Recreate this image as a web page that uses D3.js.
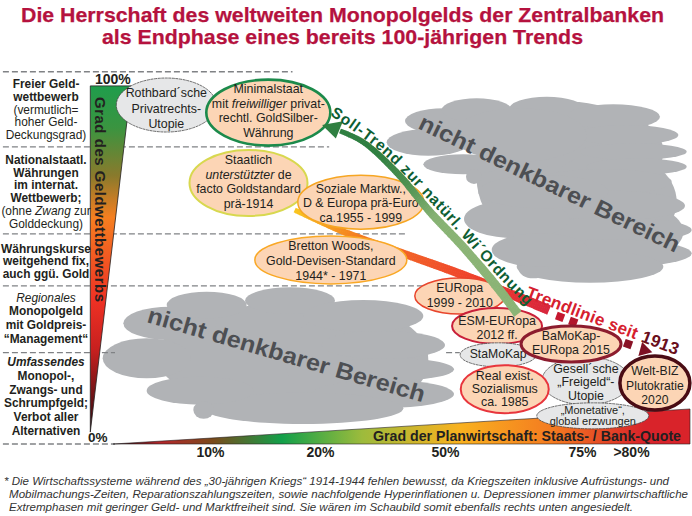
<!DOCTYPE html>
<html>
<head>
<meta charset="utf-8">
<script src="https://cdnjs.cloudflare.com/ajax/libs/d3/7.8.5/d3.min.js"></script>
<style>
html, body { margin: 0; padding: 0; background: #fff; }
svg { display: block; font-family: "Liberation Sans", Arial, sans-serif; }
</style>
</head>
<body>
<svg id="chart" width="692" height="516"></svg>
<script>
//texts
var titleLines = ["Die Herrschaft des weltweiten Monopolgelds der Zentralbanken", "als Endphase eines bereits 100-jährigen Trends"],
    xTickValues = [10, 20, 50, 75, 80],
    xTickLabels = ["10%", "20%", "50%", "75%", ">80%"],
    footnoteLines = [
        "* Die Wirtschaftssysteme während des „30-jährigen Kriegs“ 1914-1944 fehlen bewusst, da Kriegszeiten inklusive Aufrüstungs- und",
        "Mobilmachungs-Zeiten, Reparationszahlungszeiten, sowie nachfolgende Hyperinflationen u. Depressionen immer planwirtschaftliche",
        "Extremphasen mit geringer Geld- und Marktfreiheit sind. Sie wären im Schaubild somit ebenfalls rechts unten angesiedelt."
    ];

//left column: # = bold line, *x* = italic part
var sectionLabels = [
    ["#Freier Geld-", "#wettbewerb", "(vermutlich=", "hoher Geld-", "Deckungsgrad)"],
    ["#Nationalstaatl.", "#Währungen", "#im internat.", "#Wettbewerb;", "(ohne *Zwang* zur", "Golddeckung)"],
    ["#Währungskurse", "#weitgehend fix,", "#auch ggü. Gold"],
    ["*Regionales*", "#Monopolgeld", "#mit Goldpreis-", "#“Management“"],
    ["#*Umfassendes*", "#Monopol-,", "#Zwangs- und", "#Schrumpfgeld;", "#Verbot aller", "#Alternativen"]
];

//economic systems: plan share (x), grade of money competition (y)
var systemLines = [
    ["Rothbard´sche", "Privatrechts-", "Utopie"],
    ["Minimalstaat", "mit *freiwilliger* privat-", "rechtl. GoldSilber-", "Währung"],
    ["Staatlich", "*unterstützter* de", "facto Goldstandard", "prä-1914"],
    ["Soziale Marktw.,", "D & Europa prä-Euro", "ca.1955 - 1999"],
    ["Bretton Woods,", "Gold-Devisen-Standard", "1944* - 1971"],
    ["EURopa", "1999 - 2010"],
    ["ESM-EURopa", "2012 ff."],
    ["StaMoKap"],
    ["Real exist.", "Sozialismus", "ca. 1985"],
    ["Gesell´sche", "„Freigeld“-", "Utopie"],
    ["BaMoKap-", "EURopa 2015"],
    ["Welt-BIZ", "Plutokratie", "2020"],
    ["„Monetative“,", "global erzwungen"]
];
var systemPlan = [5.4, 15.3, 13.5, 29.8, 22.6, 52.7, 59.5, 59.7, 60.9, 75.4, 73, 88.1, 76.1],
    systemGrade = [93.9, 91.8, 72.3, 67, 51, 41, 32.7, 24.7, 15.2, 17.5, 27.7, 16.9, 7.8];

//trend lines
var redTrendPlan = [17.7, 26.5, 40.4, 53.3, 69],
    redTrendGrade = [64.8, 58.4, 52.6, 46.8, 37.1],
    redDotPlan = [71, 73.4, 76.5, 79.7],
    redDotGrade = [35.2, 33.8, 30.5, 27.7],
    greenTrendPlan = [24.8, 30.3, 38.5, 46.4, 53.3, 59.5, 63.3],
    greenTrendGrade = [86.7, 83.7, 75.1, 64.3, 54.6, 43.5, 36],
    greenLabelPlan = [22.4, 34.1, 48.5, 59.9, 65.5],
    greenLabelGrade = [91.1, 81.4, 64.5, 46, 37.4],
    dashGrades = [103.1, 82.3, 58.2, 43.8, 25.3, 25.3, 0],
    dashFromPlan = [-11.8, -11.8, -11.8, -11.8, -11.8, 50.2, -11.8],
    dashToPlan = [17.5, 22.2, 40.6, 46.4, 0, 52.7, 0];

//not linear in the original, so piecewise
var x = d3.scaleLinear().domain([0, 10, 20, 50, 75, 80, 100]).range([115, 210, 320, 445, 582, 631, 690]),
    y = d3.scaleLinear().domain([0, 100]).range([444, 83]),
    svg = d3.select("#chart"),
    defs = svg.append("defs"),
    ink = "#231f20";

function addGradient(id, stops, vertical, from, to) {
    var g = defs.append("linearGradient").attr("id", id).attr("gradientUnits", "userSpaceOnUse");
    if (vertical) {
        g.attr("x1", 0).attr("x2", 0).attr("y1", from).attr("y2", to);
    } else {
        g.attr("y1", 0).attr("y2", 0).attr("x1", from).attr("x2", to);
    }
    stops.forEach(function (s) {
        g.append("stop").attr("offset", s[0]).attr("stop-color", s[1]);
    });
}
addGradient("grad-wett", [[0, "#1f9d4c"], [0.12, "#3a9440"], [0.26, "#8a7a2c"], [0.38, "#f57f20"], [0.62, "#ee3124"], [0.76, "#c8201f"], [1, "#2a0a10"]], true, y(99.2), y(3.3));
addGradient("grad-plan", [[0, "#2a0a10"], [0.08, "#b5262a"], [0.17, "#7a4a1c"], [0.29, "#12a04a"], [0.43, "#9dbb3c"], [0.6, "#f9b11f"], [0.76, "#f47b20"], [0.92, "#d9232a"], [1, "#d9232a"]], false, x(0), x(100));

//clouds, lobes are in their own sketch units
var upperLobes = [[600, 280, 280, 230], [700, 200, 180, 120], [720, 350, 200, 150], [760, 440, 180, 90], [220, 108, 115, 38], [175, 172, 125, 40], [320, 75, 105, 35], [530, 75, 115, 40], [730, 95, 140, 37], [770, 150, 155, 30], [790, 200, 160, 25], [800, 245, 150, 25], [700, 290, 205, 38], [720, 362, 225, 45], [730, 435, 235, 38], [720, 505, 245, 42], [660, 545, 220, 48], [490, 550, 45, 30], [440, 402, 158, 58], [510, 495, 145, 50], [520, 320, 195, 50], [280, 238, 120, 30], [312, 275, 24, 22], [450, 150, 200, 80]],
    lowerLobes = [[600, 230, 400, 160], [800, 240, 215, 150], [240, 130, 140, 50], [170, 235, 132, 60], [350, 75, 120, 40], [600, 62, 135, 40], [820, 108, 180, 48], [880, 195, 185, 42], [900, 268, 192, 34], [880, 342, 212, 42], [640, 385, 300, 47], [330, 332, 160, 42], [341, 390, 31, 26]];

function drawCloud(lobes, cx, cy) {
    svg.append("g").attr("fill", "#b1b3b6").selectAll("ellipse")
        .data(lobes)
        .enter().append("ellipse")
        .attr("cx", function (d) { return cx(d[0]); })
        .attr("cy", function (d) { return cy(d[1]); })
        .attr("rx", function (d) { return cx(d[2]) - cx(0); })
        .attr("ry", function (d) { return cy(d[3]) - cy(0); });
}
var upperCloudX = d3.scaleLinear().domain([0, 966]).range([370, 692]),
    upperCloudY = d3.scaleLinear().domain([0, 645]).range([85, 300]),
    lowerCloudX = d3.scaleLinear().domain([0, 1140]).range([90, 470]),
    lowerCloudY = d3.scaleLinear().domain([0, 510]).range([280, 450]);
drawCloud(upperLobes, upperCloudX, upperCloudY);
drawCloud(lowerLobes, lowerCloudX, lowerCloudY);

//dashed level lines
svg.append("g").selectAll("line")
    .data(dashGrades)
    .enter().append("line")
    .attr("x1", function (d, i) { return x(dashFromPlan[i]); })
    .attr("x2", function (d, i) { return x(dashToPlan[i]); })
    .attr("y1", function (d) { return y(d); })
    .attr("y2", function (d) { return y(d); })
    .attr("stroke", "#808285")
    .attr("stroke-width", 1.4)
    .attr("stroke-dasharray", "6,3");

//cloud captions
svg.append("text")
    .attr("transform", "translate(417,128) rotate(25.8)")
    .attr("font-size", 23).attr("font-weight", "bold").attr("fill", "#4d4f53")
    .attr("textLength", 287).attr("lengthAdjust", "spacingAndGlyphs")
    .text("nicht denkbarer Bereich");
svg.append("text")
    .attr("transform", "translate(146,322) rotate(16.2)")
    .attr("font-size", 23).attr("font-weight", "bold").attr("fill", "#4d4f53")
    .attr("textLength", 288).attr("lengthAdjust", "spacingAndGlyphs")
    .text("nicht denkbarer Bereich");

//wedges of both axes
var polyLine = d3.line().x(function (d) { return x(d[0]); }).y(function (d) { return y(d[1]); });
svg.append("path")
    .attr("d", polyLine([[-2.6, 99.2], [1.7, 99.2], [-2.6, 3.3]]) + "Z")
    .attr("fill", "url(#grad-wett)").attr("stroke", ink).attr("stroke-width", 0.8);
svg.append("path")
    .attr("d", polyLine([[-0.2, 0], [100, 9.7], [100, 0]]) + "Z")
    .attr("fill", "url(#grad-plan)").attr("stroke", ink).attr("stroke-width", 0.6);

//tapered line sampled along a curve
function taperedLine(pts, widths, colors) {
    var curve = d3.line().curve(d3.curveCatmullRom).x(function (d) { return x(d[0]); }).y(function (d) { return y(d[1]); }),
        probe = svg.append("path").attr("d", curve(pts)).attr("fill", "none"),
        total = probe.node().getTotalLength(),
        stops = widths.map(function (d, i) { return i / (widths.length - 1); }),
        width = d3.scaleLinear().domain(stops).range(widths),
        color = d3.scaleLinear().domain(stops).range(colors),
        g = svg.append("g"),
        step = 2,
        s,
        a,
        b;
    for (s = 0; s < total; s += step) {
        a = probe.node().getPointAtLength(s);
        b = probe.node().getPointAtLength(Math.min(s + step + 0.6, total));
        g.append("line")
            .attr("x1", a.x).attr("y1", a.y).attr("x2", b.x).attr("y2", b.y)
            .attr("stroke", color(s / total))
            .attr("stroke-width", width(s / total));
    }
    probe.remove();
}
taperedLine(d3.zip(redTrendPlan, redTrendGrade), [5, 7, 8, 9, 10], ["#f9c51f", "#f47b20", "#f15a29", "#ee3a2c", "#d7263d"]);

//system ellipses
var ellipseRx = [50, 62, 59, 63, 76, 45, 45, 38, 44, 44, 50, 35, 56],
    ellipseRy = [27, 33, 33, 27, 24, 18, 18, 12, 24, 24, 18, 27, 13],
    ellipseFill = ["#e6e7e8", "#fcd5b5", "#fcd5b5", "#fcd5b5", "#fcd5b5", "#fcd5b5", "#fcd5b5", "#e6e7e8", "#fcd5b5", "#e6e7e8", "#fcd5b5", "#fcd5b5", "#e6e7e8"],
    ellipseStroke = ["#4a4a4a", "#1c8a4b", "#d8d84f", "#f6a623", "#f9a825", "#e8452c", "#c9203a", "#4a4a4a", "#e8353c", "#4a4a4a", "#8c1c2e", "#4a0c14", "#4a4a4a"],
    ellipseStrokeWidth = [0.8, 2.6, 2, 1.5, 1.5, 1.5, 2, 0.8, 2, 0.8, 3, 3.5, 0.8],
    ellipseFont = [12.4, 12.4, 12.4, 12.4, 12.4, 12.4, 12.4, 12.2, 12.4, 12.4, 12.4, 12.2, 11],
    ellipseFirstBaseline = [97, 93, 164, 192.7, 250, 291.7, 325, 357.7, 380, 372.7, 340, 375, 414],
    ellipseLineStep = [15.5, 14.6, 14.7, 14.6, 15, 15, 14.3, 15, 13, 13.6, 14, 14.5, 10.5];

function addRichText(sel, line) {
    var bold = line.charAt(0) === "#",
        parts = (bold ? line.slice(1) : line).split(/(\*[^*]+\*)/);
    parts.forEach(function (p) {
        if (p === "") {
            return;
        }
        var italic = p.charAt(0) === "*";
        sel.append("tspan")
            .attr("font-style", italic ? "italic" : "normal")
            .attr("font-weight", bold ? "bold" : "normal")
            .text(italic ? p.slice(1, -1) : p);
    });
}

//order as in the original: later ones lie over earlier ones
var drawOrder = [0, 1, 2, 3, 4, 5, 6, 7, 9, 10, 8, 12, 11],
    ellipseLayer = svg.append("g"),
    redDots = ellipseLayer.append("g");
drawOrder.forEach(function (i) {
    var cx = x(systemPlan[i]),
        cy = y(systemGrade[i]);
    ellipseLayer.append("ellipse")
        .attr("cx", cx).attr("cy", cy)
        .attr("rx", ellipseRx[i]).attr("ry", ellipseRy[i])
        .attr("fill", ellipseFill[i])
        .attr("stroke", ellipseStroke[i])
        .attr("stroke-width", ellipseStrokeWidth[i])
        .attr("stroke-dasharray", ellipseFill[i] === "#e6e7e8" ? "3,0.6" : null);
    systemLines[i].forEach(function (line, k) {
        var t = ellipseLayer.append("text")
            .attr("x", cx)
            .attr("y", ellipseFirstBaseline[i] + k * ellipseLineStep[i])
            .attr("text-anchor", "middle")
            .attr("font-size", ellipseFont[i])
            .attr("fill", ink);
        addRichText(t, line);
    });
});

//dotted continuation of the red trend
redDots.selectAll("rect")
    .data(redDotPlan)
    .enter().append("rect")
    .attr("x", -4).attr("y", -4).attr("width", 8).attr("height", 8)
    .attr("transform", function (d, i) { return "translate(" + x(d) + "," + y(redDotGrade[i]) + ") rotate(20)"; })
    .attr("fill", function (d, i) { return d3.interpolateRgb("#c5182f", "#8a1226")(i / 3); });
svg.append("path")
    .attr("d", d3.symbol().type(d3.symbolTriangle).size(90)())
    .attr("transform", "translate(" + x(84.5) + "," + y(26) + ") rotate(105)")
    .attr("fill", "#7d1024");

//green target trend with arrow
taperedLine(d3.zip(greenTrendPlan, greenTrendGrade), [5, 6, 7, 8, 8.5, 9, 9], ["#2f7f41", "#2f7f41", "#4d9150", "#86b273", "#8bb476", "#8bb476", "#8bb476"]);
svg.append("path")
    .attr("d", polyLine([[20.5, 88.4], [25.5, 89.4], [23.8, 84.6]]) + "Z")
    .attr("fill", "#2f7f41");

//trend captions
defs.append("path")
    .attr("id", "soll-path")
    .attr("d", d3.line().curve(d3.curveCatmullRom).x(function (d) { return x(d[0]); }).y(function (d) { return y(d[1]); })(d3.zip(greenLabelPlan, greenLabelGrade)));
svg.append("text")
    .attr("font-size", 15.5).attr("font-weight", "bold").attr("fill", "#0e5e33")
    .append("textPath").attr("href", "#soll-path")
    .attr("textLength", 275).attr("lengthAdjust", "spacing")
    .text("Soll-Trend zur natürl. Wi´Ordnung");
var trendCaption = svg.append("text")
    .attr("transform", "translate(525,297) rotate(21)")
    .attr("font-size", 17).attr("font-weight", "bold")
    .attr("textLength", 162).attr("lengthAdjust", "spacing");
trendCaption.append("tspan").attr("fill", "#d6202e").text("Trendlinie seit ");
trendCaption.append("tspan").attr("fill", "#6a0f1c").text("1913");

//axis texts
svg.append("g")
    .attr("transform", "translate(100,97) rotate(90)")
    .append("text")
    .attr("y", 5)
    .attr("font-size", 15).attr("font-weight", "bold").attr("fill", ink)
    .attr("textLength", 205).attr("lengthAdjust", "spacing")
    .text("Grad des Geldwettbewerbs");
svg.append("text").attr("x", 95).attr("y", 84)
    .attr("font-size", 14).attr("font-weight", "bold").attr("fill", ink).text("100%");
svg.append("text").attr("x", 88).attr("y", 442)
    .attr("font-size", 13.5).attr("font-weight", "bold").attr("fill", ink).text("0%");
svg.append("text").attr("x", 373).attr("y", 441)
    .attr("font-size", 14).attr("font-weight", "bold").attr("fill", ink)
    .attr("textLength", 308).attr("lengthAdjust", "spacingAndGlyphs")
    .text("Grad der Planwirtschaft: Staats- / Bank-Quote");

var axis = d3.axisBottom(x)
    .tickValues(xTickValues)
    .tickFormat(function (d, i) { return xTickLabels[i]; })
    .tickSize(0)
    .tickPadding(0);
var axisG = svg.append("g").attr("transform", "translate(0,447)").call(axis);
axisG.select(".domain").remove();
axisG.selectAll("text")
    .attr("font-family", "Liberation Sans")
    .attr("font-size", 14).attr("font-weight", "bold").attr("fill", ink);

//left column
var sectionBaselines = [88.3, 164, 252.5, 301.7, 366],
    sectionSteps = [12.7, 12.7, 12.6, 13.7, 13.8];
sectionLabels.forEach(function (lines, i) {
    lines.forEach(function (line, k) {
        var t = svg.append("text")
            .attr("x", 46)
            .attr("y", sectionBaselines[i] + k * sectionSteps[i])
            .attr("text-anchor", "middle")
            .attr("font-size", 11.9)
            .attr("fill", ink);
        addRichText(t, line);
    });
});

//title
var titleWidths = [643, 481],
    titleBaselines = [22, 44];
titleLines.forEach(function (line, i) {
    svg.append("text")
        .attr("x", 342.5).attr("y", titleBaselines[i])
        .attr("text-anchor", "middle")
        .attr("font-size", 20.5).attr("font-weight", "bold").attr("fill", "#b5123e")
        .attr("stroke", "#b5123e").attr("stroke-width", 0.25)
        .attr("textLength", titleWidths[i]).attr("lengthAdjust", "spacingAndGlyphs")
        .text(line);
});

//footnote
var footX = [4, 9, 9],
    footWidths = [665, 679, 624],
    footBaselines = [485, 497.7, 511];
footnoteLines.forEach(function (line, i) {
    svg.append("text")
        .attr("x", footX[i]).attr("y", footBaselines[i])
        .attr("font-size", 11.3).attr("font-style", "italic").attr("fill", "#333")
        .attr("textLength", footWidths[i]).attr("lengthAdjust", "spacingAndGlyphs")
        .text(line);
});
</script>
</body>
</html>
